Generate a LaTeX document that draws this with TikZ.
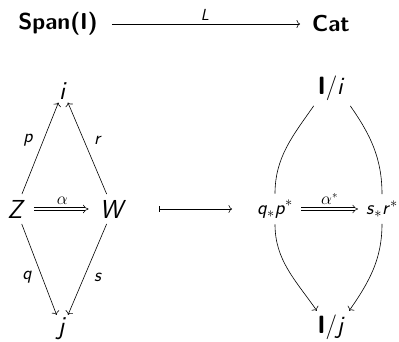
\documentclass[tikz,border=0pt]{standalone}
\usepackage{fontspec}
\usetikzlibrary{arrows.meta}
\newcommand\mv[1]{\textsf{\itshape #1}}
\newcommand\bsf[1]{\textsf{\bfseries #1}}
\tikzset{
  title/.style={font=\fontsize{23}{27}\selectfont, inner sep=2pt},
  btitle/.style={font=\fontsize{25}{29}\selectfont, inner sep=2pt},
  obj/.style={font=\fontsize{26}{30}\selectfont, inner sep=2pt},
  robj/.style={font=\fontsize{20}{24}\selectfont, inner sep=2pt},
  lab/.style={font=\fontsize{19}{22}\selectfont, inner sep=1pt},
  slab/.style={font=\fontsize{16}{19}\selectfont, inner sep=1pt},
  ar/.style={-{To[length=3.5pt,width=8pt]}, line width=0.6pt},
  dar/.style={double, double distance=2.4pt, line width=0.55pt, -{Implies[]}},
}
\begin{document}
\begin{tikzpicture}[x=1pt,y=1pt]
\useasboundingbox (0,0) rectangle (399,341);
\node[title] (span) at (58,317) {\bsf{Span(I)}};
\node[title] (cat) at (331,317) {\bsf{Cat}};
\draw[ar, shorten <=12pt, shorten >=10pt] (span) -- node[slab, above=2pt] {\mv{L}} (cat);

\node[obj] (i) at (63,250) {\mv{i}};
\node[obj] (z) at (16,132) {\mv{Z}};
\node[obj] (w) at (113,132) {\mv{W}};
\node[obj] (j) at (62,12) {\mv{j}};
\draw[ar, shorten <=4pt, shorten >=1pt] (z) -- node[lab, pos=0.6, left=9pt] {\mv{p}} (i);
\draw[ar, shorten <=4pt, shorten >=1pt] (w) -- node[lab, pos=0.6, right=9pt] {\mv{r}} (i);
\draw[ar, shorten <=4pt, shorten >=1pt] (z) -- node[lab, pos=0.6, left=9pt] {\mv{q}} (j);
\draw[ar, shorten <=4pt, shorten >=1pt] (w) -- node[lab, pos=0.6, right=9pt] {\mv{s}} (j);
\draw[dar, shorten <=7pt, shorten >=9pt] (z) -- node[slab, above=3pt] {$\alpha$} (w);

\coordinate (ms) at (159,132);
\coordinate (me) at (232,132);
\draw[ar, |-{To[length=3.5pt,width=8pt]}] (ms) -- (me);

\node[btitle] (Ii) at (331,253) {\bsf{I}$/$\mv{i}};
\node[robj] (qp) at (275,132) {\mv{q}$_*$\mv{p}$^*$};
\node[robj] (sr) at (382,132) {\mv{s}$_*$\mv{r}$^*$};
\node[btitle] (Ij) at (331,14) {\bsf{I}$/$\mv{j}};
\draw[line width=0.6pt, shorten <=4pt, shorten >=4pt] ([xshift=-15pt]Ii.south) to[out=235,in=90] (qp.north);
\draw[line width=0.6pt, shorten <=4pt, shorten >=4pt] ([xshift=17pt]Ii.south) to[out=305,in=90] (sr.north);
\draw[ar, shorten <=4pt, shorten >=2pt] (qp.south) to[out=270,in=125] ([xshift=-13pt]Ij.north);
\draw[ar, shorten <=4pt, shorten >=2pt] (sr.south) to[out=270,in=55] ([xshift=17pt]Ij.north);
\draw[dar, shorten <=6pt, shorten >=6pt] (qp) -- node[slab, above=3pt] {$\alpha^*$} (sr);
\end{tikzpicture}
\end{document}
